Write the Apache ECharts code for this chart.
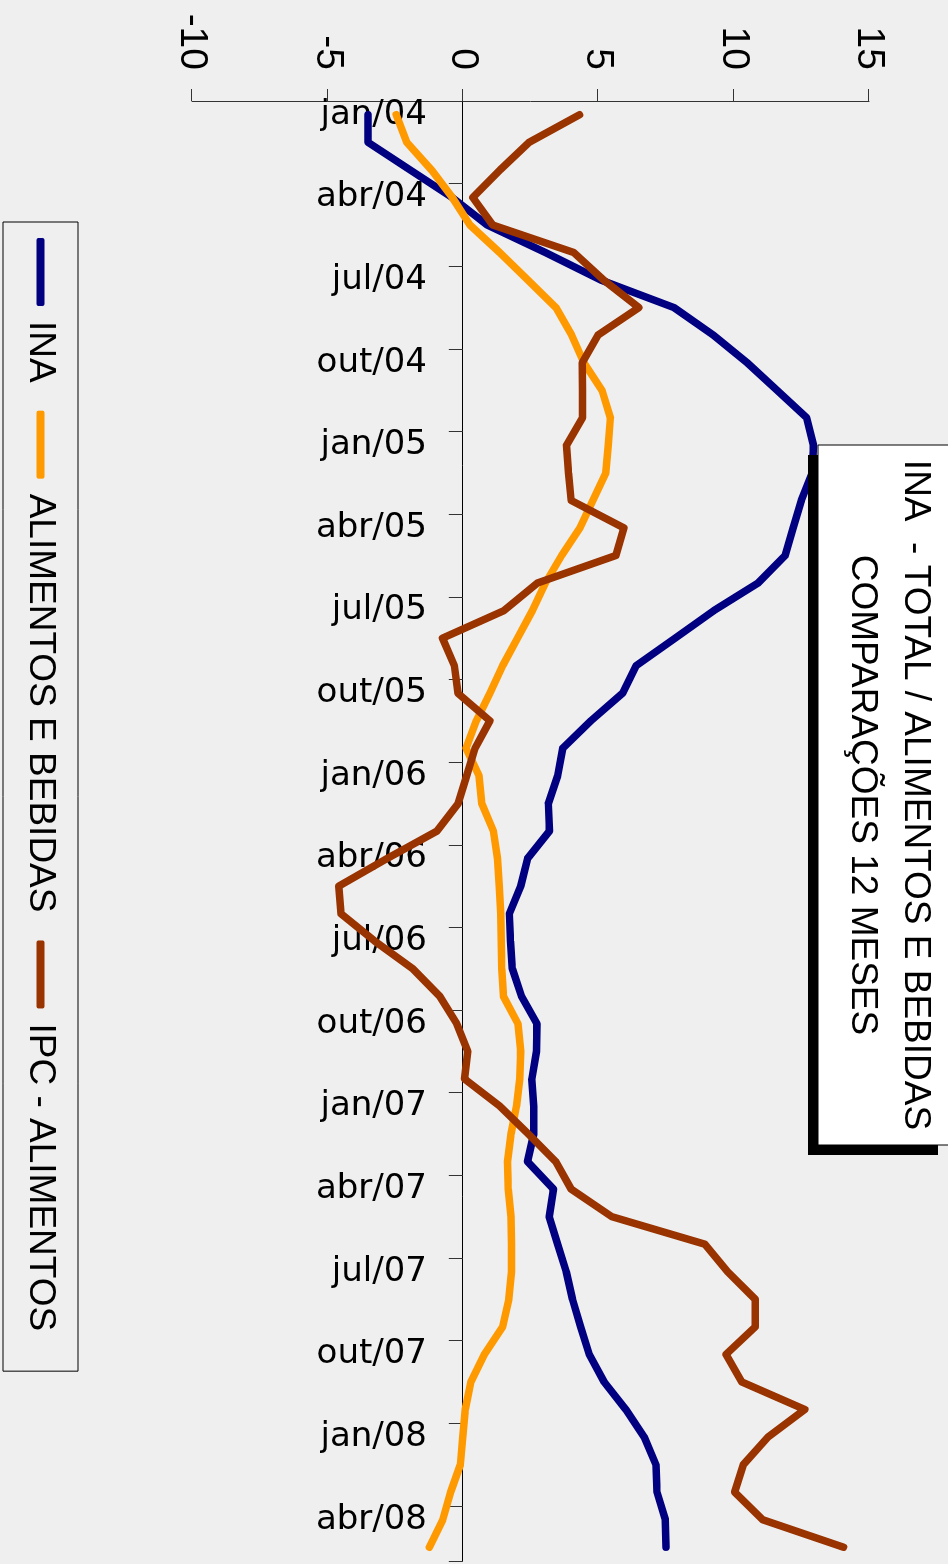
<!DOCTYPE html>
<html>
<head>
<meta charset="utf-8">
<script src="https://cdn.jsdelivr.net/npm/echarts@6/dist/echarts.min.js"></script>
<style>
  html, body { margin: 0; padding: 0; width: 948px; height: 1564px; overflow: hidden; background: #efefef; }
  /* chart is laid out landscape and turned a quarter clockwise, like the source sheet */
  #chart { position: absolute; left: 0; top: 0; width: 1564px; height: 948px;
           transform-origin: 0 0; transform: translate(948px, 0) rotate(90deg); }
</style>
</head>
<body>
<div id="chart"></div>
<script>
const months = [
  "jan/04", "fev/04", "mar/04", "abr/04", "mai/04", "jun/04", "jul/04", "ago/04", "set/04", "out/04", "nov/04", "dez/04",
  "jan/05", "fev/05", "mar/05", "abr/05", "mai/05", "jun/05", "jul/05", "ago/05", "set/05", "out/05", "nov/05", "dez/05",
  "jan/06", "fev/06", "mar/06", "abr/06", "mai/06", "jun/06", "jul/06", "ago/06", "set/06", "out/06", "nov/06", "dez/06",
  "jan/07", "fev/07", "mar/07", "abr/07", "mai/07", "jun/07", "jul/07", "ago/07", "set/07", "out/07", "nov/07", "dez/07",
  "jan/08", "fev/08", "mar/08", "abr/08", "mai/08"
];

const ina = [
  -3.5, -3.5, -1.95, -0.4, 0.9, 3.05, 5.1, 7.8, 9.25, 10.5, 11.6, 12.7,
  12.95, 12.9, 12.5, 12.2, 11.9, 10.9, 9.27, 7.84, 6.4, 5.9, 4.73, 3.69,
  3.5, 3.16, 3.2, 2.39, 2.14, 1.72, 1.76, 1.83, 2.17, 2.74, 2.72, 2.55,
  2.62, 2.62, 2.39, 3.35, 3.19, 3.5, 3.82, 4.05, 4.35, 4.67, 5.22, 6.02,
  6.7, 7.13, 7.17, 7.48, 7.5
];

const alimentosBebidas = [
  -2.46, -2.07, -1.16, -0.39, 0.26, 1.36, 2.4, 3.44, 4.02, 4.47, 5.14, 5.45,
  5.37, 5.28, 4.8, 4.32, 3.65, 3.05, 2.57, 2.02, 1.47, 1.0, 0.5, 0.12,
  0.6, 0.7, 1.13, 1.28, 1.35, 1.4, 1.42, 1.44, 1.5, 2.04, 2.14, 2.1,
  1.98, 1.78, 1.65, 1.68, 1.78, 1.8, 1.8, 1.7, 1.47, 0.8, 0.3, 0.09,
  0.0, -0.09, -0.45, -0.74, -1.23
];

const ipcAlimentos = [
  4.31, 2.45, 1.38, 0.37, 1.1, 4.1, 5.2, 6.5, 4.99, 4.41, 4.42, 4.42,
  3.83, 3.9, 4.0, 5.95, 5.65, 2.75, 1.52, -0.75, -0.31, -0.18, 1.0, 0.45,
  0.14, -0.17, -0.95, -2.8, -4.58, -4.5, -3.25, -1.85, -0.85, -0.22, 0.18, 0.06,
  1.38, 2.42, 3.43, 4.0, 5.5, 8.94, 9.78, 10.8, 10.8, 9.72, 10.3, 12.63,
  11.27, 10.36, 10.04, 11.07, 14.06
];

const seriesNames = ["INA", "ALIMENTOS E BEBIDAS", "IPC - ALIMENTOS"];
const seriesColors = ["#000080", "#ff9900", "#993300"];
const titleLines = ["INA  - TOTAL / ALIMENTOS E BEBIDAS", "COMPARAÇÕES 12 MESES"];

const FONT = '"Liberation Sans", Arial, sans-serif';

function lineSeries(name, data, color) {
  return {
    name,
    type: "line",
    data,
    showSymbol: false,
    symbol: "none",
    lineStyle: { color, width: 7.5, cap: "round", join: "round" },
    itemStyle: { color },
    emphasis: { disabled: true }
  };
}

const chart = echarts.init(document.getElementById("chart"), null, { renderer: "canvas" });

chart.setOption({
  animation: false,
  backgroundColor: "#efefef",
  color: seriesColors,
  grid: { left: 101, right: 3, top: 79, bottom: 192 },
  xAxis: {
    type: "category",
    data: months,
    boundaryGap: true,
    axisLine: { onZero: true, lineStyle: { color: "#000", width: 1 } },
    axisTick: { show: true, interval: 2, length: 14, lineStyle: { color: "#333" } },
    // labels stay at the grid edge, so pull them up next to the zero line
    axisLabel: {
      interval: 2,
      rotate: 90,
      margin: -235,
      color: "#000",
      fontSize: 34,
      fontFamily: '"DejaVu Sans", sans-serif'
    },
    splitLine: { show: false }
  },
  yAxis: {
    type: "value",
    min: -10,
    max: 15,
    interval: 5,
    position: "left",
    axisLine: { show: true, onZero: false, lineStyle: { color: "#333", width: 1 } },
    axisTick: { show: true, length: 12, lineStyle: { color: "#333" } },
    axisLabel: { margin: 31, color: "#000", fontSize: 39, fontFamily: FONT },
    splitLine: { show: false }
  },
  legend: {
    data: seriesNames,
    orient: "horizontal",
    left: 222,
    bottom: 3,
    icon: "roundRect",
    itemWidth: 68,
    itemHeight: 8,
    itemGap: 28,
    padding: [19, 40, 19, 16],
    borderColor: "#000",
    borderWidth: 1,
    textStyle: { color: "#000", fontSize: 37, fontFamily: FONT, padding: [0, 0, 0, 10] }
  },
  graphic: [
    { type: "rect", z: 100, shape: { x: 455, y: 10, width: 700, height: 130 }, style: { fill: "#000" } },
    { type: "rect", z: 101, shape: { x: 445, y: -5, width: 700, height: 135 }, style: { fill: "#fff", stroke: "#000", lineWidth: 1 } },
    { type: "text", z: 102, x: 795, y: 33,
      style: { text: titleLines[0], fill: "#000", font: "37px " + FONT, align: "center", verticalAlign: "middle" } },
    { type: "text", z: 102, x: 795, y: 86,
      style: { text: titleLines[1], fill: "#000", font: "37px " + FONT, align: "center", verticalAlign: "middle" } }
  ],
  series: [
    lineSeries(seriesNames[0], ina, seriesColors[0]),
    lineSeries(seriesNames[1], alimentosBebidas, seriesColors[1]),
    lineSeries(seriesNames[2], ipcAlimentos, seriesColors[2])
  ]
});
</script>
</body>
</html>
